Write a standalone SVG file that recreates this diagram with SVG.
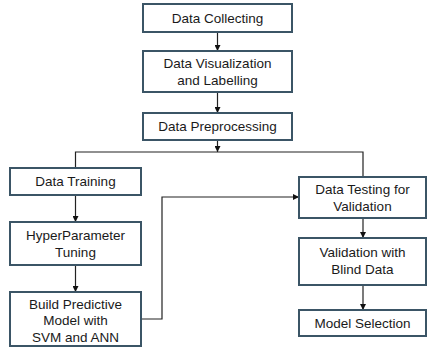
<svg xmlns="http://www.w3.org/2000/svg" width="427" height="349" viewBox="0 0 427 349">
<style>
.box{fill:#fff;stroke:#3b5566;stroke-width:2}
.t{font-family:"Liberation Sans",Arial,sans-serif;font-size:13.5px;fill:#1a1a1a;text-anchor:middle}
.c{fill:none;stroke:#222;stroke-width:1.2}
</style>
<defs>
<marker id="ah" viewBox="0 0 10 10" refX="10" refY="5" markerWidth="6" markerHeight="6" markerUnits="userSpaceOnUse" orient="auto">
<path d="M0,0 L10,5 L0,10 z" fill="#111"/>
</marker>
</defs>
<rect width="427" height="349" fill="#fff"/>
<g id="connectors">
<path class="c" d="M217.5,32 V51" marker-end="url(#ah)"/>
<path class="c" d="M217.5,92 V113" marker-end="url(#ah)"/>
<path class="c" d="M217.5,140 V152" marker-end="url(#ah)"/>
<path class="c" d="M75.5,168 V152 H363 V177"/>
<path class="c" d="M75.5,195 V222" marker-end="url(#ah)"/>
<path class="c" d="M75.5,265 V292" marker-end="url(#ah)"/>
<path class="c" d="M141,319 H162 V197 H299" marker-end="url(#ah)"/>
<path class="c" d="M363,218 V238" marker-end="url(#ah)"/>
<path class="c" d="M363,285 V310" marker-end="url(#ah)"/>
</g>
<g id="data-collecting">
<rect class="box" x="143" y="4" width="149" height="28"/>
<text class="t" x="217.5" y="22.5">Data Collecting</text>
</g>
<g id="data-visualization">
<rect class="box" x="143" y="51" width="149" height="41"/>
<text class="t" x="217.5" y="67.5">Data Visualization</text>
<text class="t" x="217.5" y="84.5">and Labelling</text>
</g>
<g id="data-preprocessing">
<rect class="box" x="143" y="113" width="149" height="27"/>
<text class="t" x="217.5" y="131">Data Preprocessing</text>
</g>
<g id="data-training">
<rect class="box" x="10" y="168" width="131" height="27"/>
<text class="t" x="75.5" y="186">Data Training</text>
</g>
<g id="hyperparameter-tuning">
<rect class="box" x="10" y="222" width="131" height="43"/>
<text class="t" x="75.5" y="239.5">HyperParameter</text>
<text class="t" x="75.5" y="256.5">Tuning</text>
</g>
<g id="build-model">
<rect class="box" x="10" y="292" width="131" height="54"/>
<text class="t" x="75.5" y="308.5">Build Predictive</text>
<text class="t" x="75.5" y="325">Model with</text>
<text class="t" x="75.5" y="341.5">SVM and ANN</text>
</g>
<g id="data-testing">
<rect class="box" x="299" y="177" width="127" height="41"/>
<text class="t" x="362.5" y="193.5">Data Testing for</text>
<text class="t" x="362.5" y="210.5">Validation</text>
</g>
<g id="validation-blind">
<rect class="box" x="299" y="238" width="127" height="47"/>
<text class="t" x="362.5" y="257">Validation with</text>
<text class="t" x="362.5" y="274">Blind Data</text>
</g>
<g id="model-selection">
<rect class="box" x="299" y="310" width="127" height="26"/>
<text class="t" x="362.5" y="327.5">Model Selection</text>
</g>
</svg>
